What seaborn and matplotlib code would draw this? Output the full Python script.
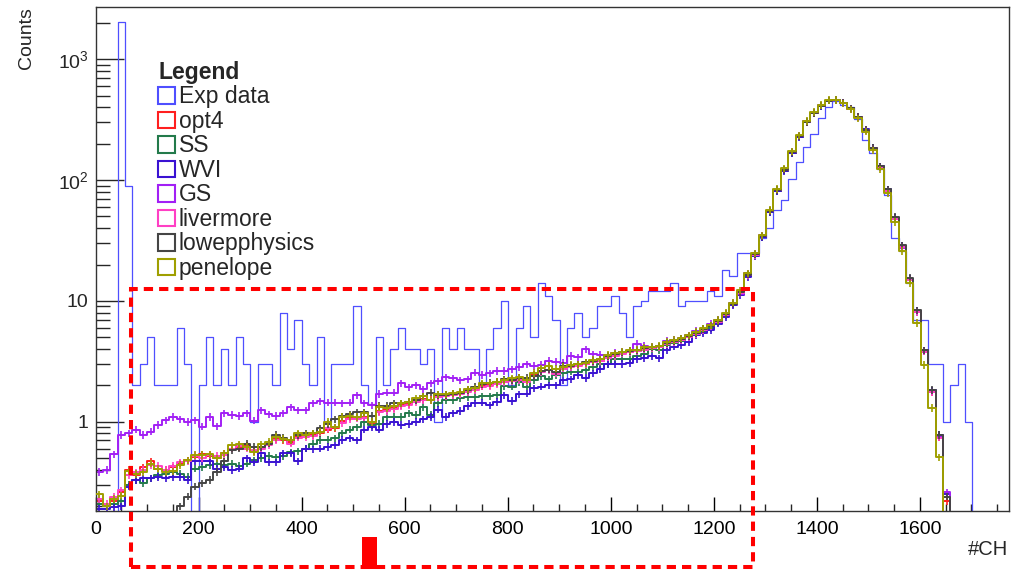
import numpy as np
import matplotlib
matplotlib.use("Agg")
import matplotlib.pyplot as plt
import seaborn as sns
from matplotlib.patches import Rectangle
from matplotlib.ticker import MultipleLocator, LogLocator, FixedLocator, FuncFormatter, NullFormatter

# ---------------- data (bin contents) ----------------
BIN_WIDTH = 14.3
N_BINS = 124
X_MAX = 1772
Y_MIN, Y_MAX = 0.1824, 2710

series_names = ["Exp data", "opt4", "SS", "WVI", "GS", "livermore", "lowepphysics", "penelope"]
series_colors = ["#4f4fff", "#ff1f1f", "#237a4b", "#3a12d2", "#a21ff5", "#ff3fc4", "#454545", "#9f9f00"]

exp_data = [0, 0, 0, 2020, 89, 2, 3, 5, 2, 2,
            2, 6, 3, 0, 2, 5, 2, 4, 2, 5,
            3, 1, 3, 3, 2, 8, 4, 7, 3, 2,
            5, 1, 3, 3, 3, 9, 2, 1.4, 5, 2,
            4, 6, 4, 4, 3, 4, 1, 6, 4, 6,
            4, 4, 2, 4, 6, 10, 2, 6, 9, 5,
            14, 11, 7, 2, 6, 8, 5, 6, 9, 9,
            11, 8, 5, 9, 10, 12, 12, 12, 14, 9,
            10, 10, 10, 12, 11, 18, 16, 25, 25, 25,
            33, 40, 57, 69, 103, 142, 189, 241, 325, 401,
            455, 415, 400, 320, 214, 167, 123, 76, 33, 26,
            14, 7, 7, 3, 3, 1, 2, 3, 1]

opt4 = [0.22, 0.2, 0.22, 0.26, 0.40, 0.36, 0.42, 0.47, 0.41, 0.40,
        0.42, 0.45, 0.48, 0.51, 0.54, 0.52, 0.50, 0.55, 0.60, 0.62,
        0.64, 0.57, 0.62, 0.66, 0.72, 0.70, 0.68, 0.76, 0.77, 0.78,
        0.80, 0.86, 0.88, 1.02, 1.08, 1.08, 1.10, 0.98, 1.22, 1.25,
        1.30, 1.38, 1.40, 1.50, 1.55, 1.52, 1.62, 1.66, 1.70, 1.72,
        1.80, 1.85, 1.98, 2.00, 2.10, 2.15, 2.22, 2.25, 2.20, 2.45,
        2.62, 2.70, 2.55, 2.80, 2.88, 2.95, 3.00, 3.15, 3.20, 3.45,
        3.55, 3.70, 3.80, 3.85, 4.00, 4.10, 4.15, 4.45, 4.60, 4.80,
        5.05, 5.40, 5.80, 6.20, 6.80, 7.80, 9.40, 11.8, 16.2,
        24.0, 34.0, 55.0, 82.0, 121, 169, 230, 303, 360, 414,
        456, 461, 436, 392, 333, 260, 184, 128, 82, 48,
        28, 15, 8.2, 3.8, 1.75, 0.75, 0.22, 0, 0, 0]

ss = [0.21, 0.2, 0.21, 0.22, 0.30, 0.33, 0.31, 0.34, 0.36, 0.37,
      0.38, 0.37, 0.35, 0.41, 0.42, 0.44, 0.45, 0.44, 0.45, 0.43,
      0.45, 0.48, 0.50, 0.52, 0.51, 0.52, 0.56, 0.57, 0.60, 0.66,
      0.71, 0.71, 0.73, 0.80, 0.86, 0.90, 1.00, 0.94, 0.96, 1.10,
      1.10, 1.10, 1.17, 1.14, 1.33, 1.14, 1.42, 1.51, 1.51, 1.56,
      1.61, 1.61, 1.63, 1.63, 1.66, 1.97, 1.95, 2.14, 1.95, 2.20,
      2.39, 2.24, 2.43, 2.54, 2.60, 2.60, 2.68, 2.82, 3.00, 3.00,
      3.28, 3.33, 3.33, 3.49, 3.63, 3.97, 3.92, 4.32, 4.45, 4.69,
      5.00, 5.30, 5.60, 6.00, 6.70, 7.60, 9.50, 11.5, 16.2,
      23.8, 33.8, 54.5, 81.5, 120, 168, 229, 302, 359, 413,
      455, 462, 437, 393, 334, 261, 185, 129, 83, 49,
      28.5, 15.2, 8.1, 3.85, 1.8, 0.76, 0, 0, 0, 0]

wvi = [0.19, 0.19, 0.195, 0.20, 0.29, 0.33, 0.34, 0.34, 0.35, 0.34,
       0.35, 0.35, 0.33, 0.47, 0.47, 0.47, 0.41, 0.42, 0.40, 0.41,
       0.50, 0.46, 0.55, 0.46, 0.46, 0.55, 0.55, 0.47, 0.60, 0.59,
       0.60, 0.62, 0.64, 0.71, 0.73, 0.70, 0.86, 0.90, 0.86, 0.96,
       1.00, 0.94, 0.96, 1.00, 1.05, 1.10, 1.26, 1.10, 1.17, 1.23,
       1.35, 1.42, 1.44, 1.37, 1.46, 1.66, 1.49, 1.69, 1.71, 1.89,
       1.95, 2.01, 2.00, 2.21, 2.24, 2.43, 2.30, 2.51, 2.71, 3.00,
       3.00, 3.02, 3.05, 3.28, 3.34, 3.49, 3.34, 3.92, 4.18, 4.32,
       4.59, 5.20, 5.40, 5.70, 6.50, 7.40, 9.30, 11.2, 15.8,
       23.5, 33.5, 54, 81, 119, 167, 228, 301, 358, 412,
       455, 463, 438, 394, 336, 263, 186, 130, 84, 49,
       28.5, 15.3, 8.3, 3.9, 1.82, 0.78, 0.25, 0, 0, 0]

gs = [0.385, 0.40, 0.54, 0.78, 0.80, 0.86, 0.78, 0.83, 0.94, 1.03,
      1.10, 1.05, 1.00, 1.03, 0.91, 1.10, 0.92, 1.17, 1.14, 1.12,
      1.17, 1.02, 1.24, 1.15, 1.12, 1.17, 1.32, 1.24, 1.24, 1.42,
      1.48, 1.44, 1.44, 1.42, 1.44, 1.66, 1.42, 1.37, 1.70, 1.74,
      1.74, 2.08, 1.93, 2.01, 1.85, 2.08, 2.17, 2.33, 2.28, 2.21,
      2.24, 2.55, 2.44, 2.51, 2.64, 2.64, 2.71, 2.85, 3.00, 2.89,
      2.95, 3.20, 3.14, 3.08, 3.50, 3.41, 3.97, 3.63, 3.57, 3.45,
      3.73, 3.80, 3.85, 4.40, 4.24, 4.18, 4.18, 4.69, 4.75, 4.90,
      5.20, 5.67, 5.82, 6.50, 6.95, 7.80, 9.70, 11.5, 16.9,
      24.5, 34.8, 56, 83.5, 123, 171, 233, 306, 362, 415,
      456, 460, 435, 390, 332, 259, 183, 127, 81, 47.5,
      27.5, 14.8, 8.2, 3.85, 1.78, 0.76, 0.26, 0, 0, 0]

livermore = [0.23, 0.21, 0.24, 0.27, 0.36, 0.38, 0.40, 0.44, 0.43, 0.40,
             0.43, 0.46, 0.47, 0.52, 0.50, 0.53, 0.52, 0.53, 0.60, 0.63,
             0.60, 0.58, 0.60, 0.64, 0.70, 0.72, 0.66, 0.74, 0.75, 0.76,
             0.82, 0.88, 0.90, 0.98, 1.05, 1.06, 1.08, 1.00, 1.20, 1.22,
             1.28, 1.35, 1.38, 1.45, 1.50, 1.50, 1.60, 1.62, 1.66, 1.70,
             1.76, 1.82, 1.95, 1.98, 2.05, 2.12, 2.18, 2.22, 2.15, 2.40,
             2.58, 2.66, 2.50, 2.75, 2.85, 2.92, 2.98, 3.10, 3.20, 3.40,
             3.50, 3.66, 3.76, 3.82, 3.95, 4.05, 4.12, 4.40, 4.55, 4.75,
             5.00, 5.35, 5.75, 6.15, 6.75, 7.70, 9.50, 11.7, 16.3,
             24.1, 34.2, 55.2, 82.5, 122, 170, 231, 304, 361, 414,
             456, 461, 436, 391, 333, 260, 184, 128, 82, 48,
             28, 15, 8.1, 3.8, 1.75, 0.74, 0, 0, 0, 0]

lowep = [0, 0, 0, 0, 0, 0, 0, 0, 0, 0,
         0, 0.20, 0.24, 0.29, 0.31, 0.33, 0.385, 0.47, 0.58, 0.60,
         0.66, 0.62, 0.62, 0.66, 0.78, 0.74, 0.70, 0.78, 0.80, 0.80,
         0.88, 0.96, 1.05, 1.11, 1.15, 1.20, 1.20, 1.12, 1.35, 1.36,
         1.42, 1.42, 1.47, 1.51, 1.63, 1.74, 1.67, 1.67, 1.71, 1.74,
         1.83, 1.95, 2.05, 2.10, 2.14, 2.24, 2.20, 2.32, 2.30, 2.38,
         2.64, 2.70, 2.60, 2.90, 2.92, 3.00, 3.10, 3.20, 3.30, 3.50,
         3.62, 3.75, 3.85, 3.90, 4.05, 4.15, 4.20, 4.50, 4.65, 4.85,
         5.10, 5.45, 5.85, 6.25, 6.85, 7.80, 9.50, 11.8, 16.5,
         24.3, 34.4, 55.5, 82.8, 122, 170, 231, 304, 360, 414,
         455, 462, 438, 394, 335, 262, 186, 130, 84, 49.5,
         29, 15.5, 8.4, 3.9, 1.83, 0.78, 0.24, 0, 0, 0]

penelope = [0.25, 0.2, 0.23, 0.245, 0.39, 0.37, 0.38, 0.45, 0.41, 0.38,
            0.39, 0.44, 0.48, 0.53, 0.53, 0.54, 0.50, 0.55, 0.64, 0.65,
            0.62, 0.56, 0.65, 0.68, 0.75, 0.72, 0.71, 0.80, 0.78, 0.80,
            0.83, 1.00, 0.90, 1.10, 1.12, 1.10, 1.17, 1.00, 1.33, 1.30,
            1.36, 1.42, 1.46, 1.56, 1.63, 1.51, 1.69, 1.69, 1.72, 1.77,
            1.85, 1.89, 2.08, 2.08, 2.14, 2.20, 2.28, 2.33, 2.22, 2.54,
            2.76, 2.89, 2.75, 2.85, 2.95, 3.00, 3.08, 3.24, 3.28, 3.57,
            3.68, 3.80, 3.92, 3.95, 4.12, 4.18, 4.24, 4.59, 4.75, 4.90,
            5.20, 5.55, 5.92, 6.30, 6.95, 8.00, 9.70, 12.3, 16.9,
            24.8, 35, 56.6, 84.4, 125, 174, 236, 310, 366, 419,
            460, 460, 432, 385, 325, 252, 177, 123, 78, 45,
            26, 14, 6.6, 2.95, 1.3, 0.51, 0, 0, 0, 0]

x_major_ticks = [0, 200, 400, 600, 800, 1000, 1200, 1400, 1600]
y_major_ticks = [1, 10, 100, 1000]
y_tick_labels = {1: "1", 10: "10", 100: "$10^{2}$", 1000: "$10^{3}$"}
ERR_FRAC = 0.07

# ---------------- style ----------------
sns.set_style("ticks")
plt.rcParams["font.family"] = ["Liberation Sans", "DejaVu Sans"]
plt.rcParams["mathtext.fontset"] = "custom"
plt.rcParams["mathtext.rm"] = "Liberation Sans"
plt.rcParams["mathtext.it"] = "Liberation Sans:italic"
plt.rcParams["mathtext.bf"] = "Liberation Sans:bold"

W, H = 1022, 570
fig = plt.figure(figsize=(W / 100, H / 100), dpi=100)
ax = fig.add_axes([95.5 / W, 1 - 511 / H, 913.1 / W, 504 / H])

edges = np.arange(N_BINS + 1) * BIN_WIDTH
centers = edges[:-1] + BIN_WIDTH / 2


def padded(v):
    arr = np.zeros(N_BINS)
    arr[:len(v)] = v
    return arr


all_series = [exp_data, opt4, ss, wvi, gs, livermore, lowep, penelope]
for i, (name, vals, color) in enumerate(zip(series_names, all_series, series_colors)):
    y = padded(vals)
    y_draw = np.where(y > 0, y, 0.1)
    xs = edges
    ys = np.append(y_draw, y_draw[-1])
    lw = 0.9 if i == 0 else 1.4
    sns.lineplot(x=xs, y=ys, drawstyle="steps-post", color=color, lw=lw, ax=ax,
                 estimator=None, sort=False, legend=False, zorder=2 + i * 0.1)
    if i > 0:
        m = y > Y_MIN
        ax.errorbar(centers[m], y[m], yerr=ERR_FRAC * y[m], fmt="none",
                    ecolor=color, elinewidth=1.2, capsize=0, zorder=2 + i * 0.1)

ax.set_yscale("log")
ax.set_xlim(0, X_MAX)
ax.set_ylim(Y_MIN, Y_MAX)

ax.xaxis.set_major_locator(FixedLocator(x_major_ticks))
ax.xaxis.set_minor_locator(MultipleLocator(50))
ax.yaxis.set_major_locator(FixedLocator(y_major_ticks))
ax.yaxis.set_minor_locator(LogLocator(base=10, subs=np.arange(2, 10), numticks=30))
ax.yaxis.set_major_formatter(FuncFormatter(lambda v, p: y_tick_labels.get(int(round(v)), "")))
ax.yaxis.set_minor_formatter(NullFormatter())

ax.tick_params(axis="x", which="major", direction="in", length=10, width=1, labelsize=14, pad=7,
               top=False, colors="black")
ax.tick_params(axis="x", which="minor", direction="in", length=5, width=1, top=False)
ax.tick_params(axis="y", which="major", direction="in", length=20, width=1, labelsize=14, pad=5,
               right=False)
ax.tick_params(axis="y", which="minor", direction="in", length=10, width=1, right=False)
for s in ax.spines.values():
    s.set_visible(True)
    s.set_linewidth(1.0)
    s.set_color("#333333")

ax.set_xlabel("#CH", fontsize=14.5, loc="right")
ax.xaxis.set_label_coords(1.0, -0.058)
ax.set_ylabel("Counts", fontsize=14, loc="top")
ax.yaxis.set_label_coords(-0.066, 1.0)

handles = [Rectangle((0, 0), 1, 1, facecolor="none", edgecolor=c, lw=1.5) for c in series_colors]
leg = ax.legend(handles, series_names, title="Legend", loc="upper left",
                bbox_to_anchor=(158 / W, 1 - 61 / H), bbox_transform=fig.transFigure,
                frameon=False, fontsize=16.5, borderpad=0, borderaxespad=0,
                handlelength=0.74, handleheight=0.74, handletextpad=0.17,
                labelspacing=0.065, alignment="left",
                title_fontproperties={"weight": "bold", "size": 16.5})

# red dashed annotation box and red marker (figure annotations)
fig.add_artist(Rectangle((131 / W, 1 - 566.5 / H), 622 / W, 278 / H, transform=fig.transFigure,
                         fill=False, edgecolor="#ff0000", lw=2.9, linestyle=(0, (2.3, 1.5)),
                         zorder=10))
fig.add_artist(Rectangle((362 / W, 1 - 569 / H), 15 / W, 32 / H, transform=fig.transFigure,
                         facecolor="#ff0000", edgecolor="none", zorder=10))

fig.savefig("out.png", dpi=100)
